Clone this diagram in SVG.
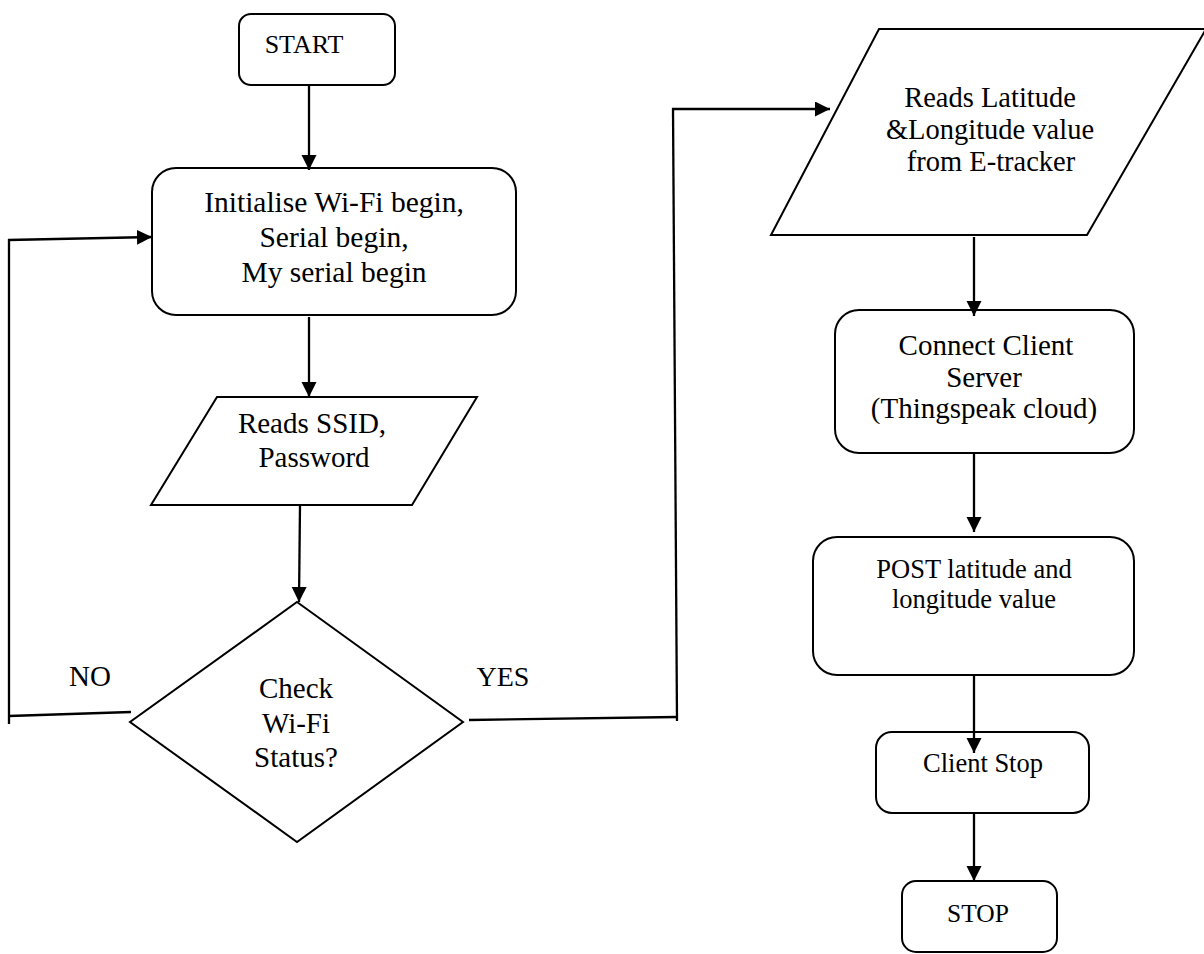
<svg xmlns="http://www.w3.org/2000/svg" width="1204" height="954" viewBox="0 0 1204 954">
<style>
.shape{fill:#fff;stroke:#000;stroke-width:2}
.conn{fill:none;stroke:#000;stroke-width:2.3}
.t{font-family:"Liberation Serif","Times New Roman",serif;fill:#000;text-anchor:middle}
</style>
<defs>
<marker id="arr" markerUnits="userSpaceOnUse" markerWidth="16" markerHeight="16" refX="15" refY="7.5" orient="auto">
<path d="M0,0 L15,7.5 L0,15 z" fill="#000"/>
</marker>
</defs>
<rect width="1204" height="954" fill="#fff"/>
<g id="start">
<rect class="shape" x="239" y="14" width="156" height="71" rx="12"/>
<text class="t" x="304" y="53" font-size="26">START</text>
</g>
<g id="init">
<rect class="shape" x="152" y="168" width="364" height="147" rx="24"/>
<text class="t" font-size="29.5"><tspan x="334" y="212">Initialise Wi-Fi begin,</tspan><tspan x="334" y="247">Serial begin,</tspan><tspan x="334" y="282">My serial begin</tspan></text>
</g>
<g id="ssid">
<polygon class="shape" points="217,397 477,397 412,505 151,505"/>
<text class="t" font-size="29"><tspan x="312" y="433">Reads SSID,</tspan><tspan x="314" y="467">Password</tspan></text>
</g>
<g id="check">
<polygon class="shape" points="297,602 463,722 297,842 130,722"/>
<text class="t" font-size="29"><tspan x="296" y="698">Check</tspan><tspan x="296" y="733">Wi-Fi</tspan><tspan x="296" y="767">Status?</tspan></text>
</g>
<g id="label-no">
<text class="t" x="90" y="686" font-size="29">NO</text>
</g>
<g id="label-yes">
<text class="t" x="503" y="686" font-size="28">YES</text>
</g>
<g id="latlon">
<polygon class="shape" points="879,29 1206,29 1087,235 771,235"/>
<text class="t" font-size="28.5"><tspan x="990" y="107">Reads Latitude</tspan><tspan x="990" y="139">&amp;Longitude value</tspan><tspan x="991" y="171">from E-tracker</tspan></text>
</g>
<g id="connect">
<rect class="shape" x="835" y="310" width="299" height="143" rx="24"/>
<text class="t" font-size="29"><tspan x="986" y="355">Connect Client</tspan><tspan x="984" y="387">Server</tspan><tspan x="984" y="418">(Thingspeak cloud)</tspan></text>
</g>
<g id="post">
<rect class="shape" x="813" y="537" width="321" height="138" rx="24"/>
<text class="t" font-size="26.5"><tspan x="974" y="578">POST latitude and</tspan><tspan x="974" y="608">longitude value</tspan></text>
</g>
<g id="clientstop">
<rect class="shape" x="876" y="732" width="213" height="81" rx="16"/>
<text class="t" x="983" y="772" font-size="26.5">Client Stop</text>
</g>
<g id="stop">
<rect class="shape" x="902" y="881" width="155" height="71" rx="14"/>
<text class="t" x="978" y="922" font-size="25.5">STOP</text>
</g>
<g id="connectors">
<line class="conn" x1="309" y1="85" x2="309" y2="170" marker-end="url(#arr)"/>
<line class="conn" x1="309" y1="317" x2="309" y2="397" marker-end="url(#arr)"/>
<line class="conn" x1="300" y1="505" x2="299" y2="602" marker-end="url(#arr)"/>
<line class="conn" x1="131" y1="712" x2="9" y2="716"/>
<line class="conn" x1="9" y1="724" x2="9" y2="239"/>
<line class="conn" x1="8" y1="240" x2="152" y2="237" marker-end="url(#arr)"/>
<line class="conn" x1="469" y1="720" x2="677" y2="717"/>
<line class="conn" x1="677" y1="721" x2="673" y2="108"/>
<line class="conn" x1="672" y1="109" x2="830" y2="109" marker-end="url(#arr)"/>
<line class="conn" x1="974" y1="237" x2="974" y2="316" marker-end="url(#arr)"/>
<line class="conn" x1="974" y1="453" x2="974" y2="532" marker-end="url(#arr)"/>
<line class="conn" x1="974" y1="675" x2="974" y2="753" marker-end="url(#arr)"/>
<line class="conn" x1="974" y1="813" x2="974" y2="881" marker-end="url(#arr)"/>
</g>
</svg>
